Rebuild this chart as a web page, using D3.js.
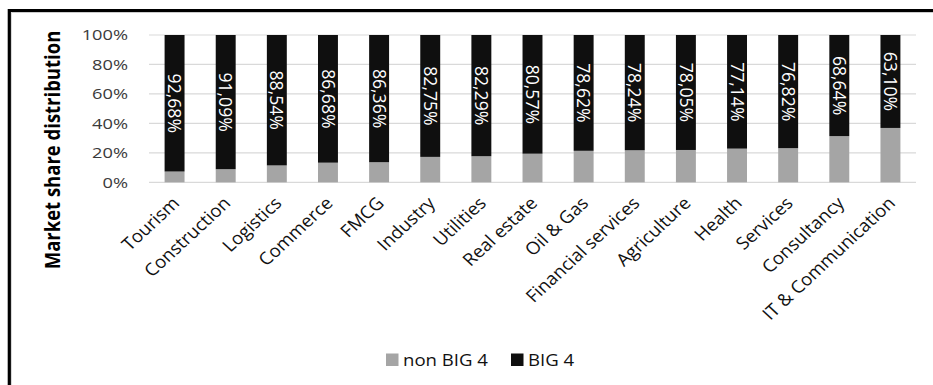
<!DOCTYPE html>
<html><head><meta charset="utf-8">
<script src="https://cdn.jsdelivr.net/npm/d3@7"></script>
<style>
html,body{margin:0;padding:0;background:#fff;}
svg{display:block;font-family:"Open Sans",sans-serif;}
</style></head>
<body>
<svg id="chart" width="933" height="385"></svg>
<script>
const categories = ["Tourism","Construction","Logistics","Commerce","FMCG","Industry","Utilities","Real estate","Oil & Gas","Financial services","Agriculture","Health","Services","Consultancy","IT & Communication"];
const big4 = [92.68,91.09,88.54,86.68,86.36,82.75,82.29,80.57,78.62,78.24,78.05,77.14,76.82,68.64,63.10];
const nonBig4 = [7.32,8.91,11.46,13.32,13.64,17.25,17.71,19.43,21.38,21.76,21.95,22.86,23.18,31.36,36.90];
const yTicks = [0,20,40,60,80,100];
const seriesNames = ["non BIG 4","BIG 4"];
const seriesColors = ["#a5a5a5","#0f0f0f"];

const SX = 1.2; // horizontal text stretch of the original picture
const svg = d3.select("#chart");

// outer frame
svg.append("rect").attr("x",9.3).attr("y",10.6).attr("width",1000).attr("height",500)
  .attr("fill","none").attr("stroke","#000").attr("stroke-width",3.2);
svg.append("line").attr("x1",11.5).attr("x2",11.5).attr("y1",12).attr("y2",385)
  .attr("stroke","#d9d9d9").attr("stroke-width",1);

const x = d3.scaleBand().domain(categories).range([149,916]).paddingInner(0.61).paddingOuter(0.305);
const y = d3.scaleLinear().domain([0,100]).range([182.3,35]);

// gridlines
svg.append("g").selectAll("line").data(yTicks).join("line")
  .attr("x1",149).attr("x2",916)
  .attr("y1",d=>y(d)).attr("y2",d=>y(d))
  .attr("stroke","#d9d9d9").attr("stroke-width",1.2);

// y tick labels
svg.append("g").selectAll("text").data(yTicks).join("text")
  .attr("transform",d=>`translate(128,${y(d)+5.3}) scale(${SX},1)`)
  .attr("text-anchor","end").attr("font-size",15.2).attr("fill","#3a3a3a")
  .text(d=>d+"%");

// stacked bars
const rows = categories.map((c,i)=>({c, a:nonBig4[i], b:big4[i]}));
const g = svg.append("g");
g.selectAll("rect.nb").data(rows).join("rect").attr("class","nb")
  .attr("x",d=>x(d.c)).attr("width",x.bandwidth())
  .attr("y",d=>y(d.a)).attr("height",d=>y(0)-y(d.a))
  .attr("fill",seriesColors[0]);
g.selectAll("rect.b").data(rows).join("rect").attr("class","b")
  .attr("x",d=>x(d.c)).attr("width",x.bandwidth())
  .attr("y",d=>y(d.a+d.b)).attr("height",d=>y(d.a)-y(d.a+d.b))
  .attr("fill",seriesColors[1]);

// in-bar labels
const fmt = v => v.toFixed(2).replace(".",",")+"%";
g.selectAll("text.lab").data(rows).join("text").attr("class","lab")
  .attr("transform",d=>`translate(${x(d.c)+x.bandwidth()/2},${(y(d.a)+y(d.a+d.b))/2}) rotate(90)`)
  .attr("text-anchor","middle").attr("dy","0.36em")
  .attr("font-size",17.6).attr("fill","#fff")
  .text(d=>fmt(d.b));

// category labels
svg.append("g").selectAll("text").data(categories).join("text")
  .attr("transform",d=>`translate(${x(d)+x.bandwidth()/2+6},${y(0)+22}) scale(1.08,1) rotate(-45)`)
  .attr("text-anchor","end").attr("font-size",17.4).attr("fill","#111")
  .text(d=>d);

// y axis title
svg.append("text")
  .attr("transform",`translate(60,150) scale(${SX},1) rotate(-90)`)
  .attr("text-anchor","middle").attr("font-size",18.5).attr("font-weight","bold").attr("fill","#000")
  .text("Market share distribution");

// legend
const legX = [386,511];
const lg = svg.append("g");
seriesNames.forEach((n,i)=>{
  lg.append("rect").attr("x",legX[i]).attr("y",353.5).attr("width",12.5).attr("height",12.5).attr("fill",seriesColors[i]);
  lg.append("text").attr("transform",`translate(${legX[i]+17},365.5) scale(${SX},1)`)
    .attr("font-size",15.5).attr("fill","#111").text(n);
});
</script>
</body></html>
